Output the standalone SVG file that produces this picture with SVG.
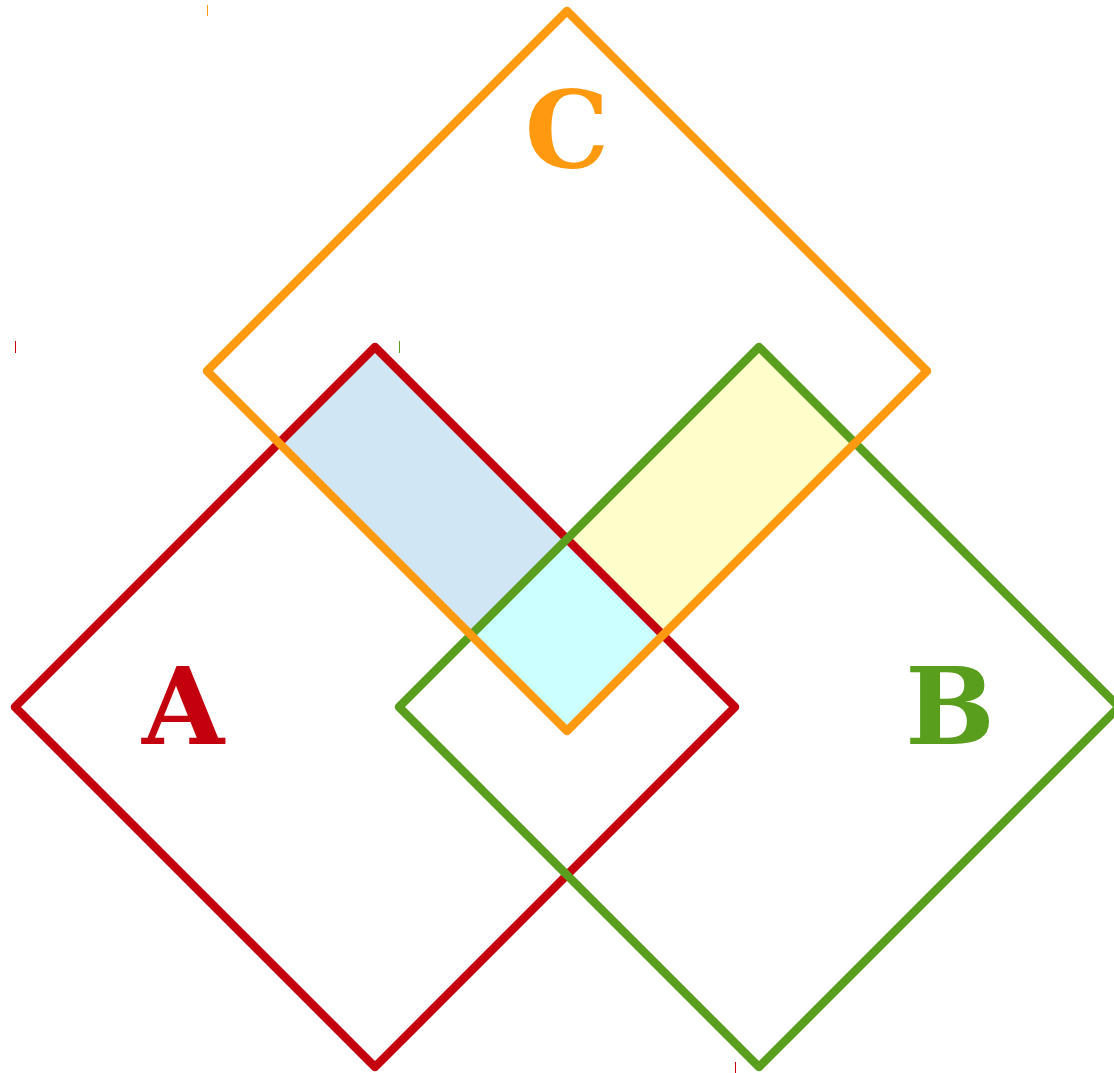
<svg xmlns="http://www.w3.org/2000/svg" width="1114" height="1073" viewBox="0 0 1114 1073">
<style>
.edge{fill:none;stroke-width:8.5;stroke-linejoin:round}
.lbl{font-family:"DejaVu Serif",serif;font-weight:bold;font-size:106px;text-anchor:middle}
.tick{stroke-width:1}
</style>
<rect width="1114" height="1073" fill="#ffffff"/>
<g id="regions">
<polygon points="375,347 279,443 567,731 663,635" fill="#d0e6f4"/>
<polygon points="471,635 759,347 855,443 567,731" fill="#ffffcc"/>
<polygon points="567,539 471,635 567,731 663,635" fill="#ccffff"/>
</g>
<g id="setA">
<polygon class="edge" points="375,347 735,707 375,1067 15,707" stroke="#c4000f"/>
<text class="lbl" x="183" y="744" fill="#c4000f">A</text>
</g>
<g id="setB">
<polygon class="edge" points="759,347 1119,707 759,1067 399,707" stroke="#5a9e1e"/>
<text class="lbl" x="950" y="744" fill="#5a9e1e">B</text>
</g>
<g id="setC">
<polygon class="edge" points="567,11 927,371 567,731 207,371" stroke="#ff9910"/>
<text class="lbl" x="567" y="167" fill="#ff9910">C</text>
</g>
<g id="connectors">
<line class="tick" x1="207.5" y1="5" x2="207.5" y2="16" stroke="#ff9910"/>
<line class="tick" x1="15.5" y1="341" x2="15.5" y2="353" stroke="#c4000f"/>
<line class="tick" x1="399.5" y1="341" x2="399.5" y2="353" stroke="#5a9e1e"/>
<line class="tick" x1="735.5" y1="1062" x2="735.5" y2="1073" stroke="#c4000f"/>
</g>
</svg>
